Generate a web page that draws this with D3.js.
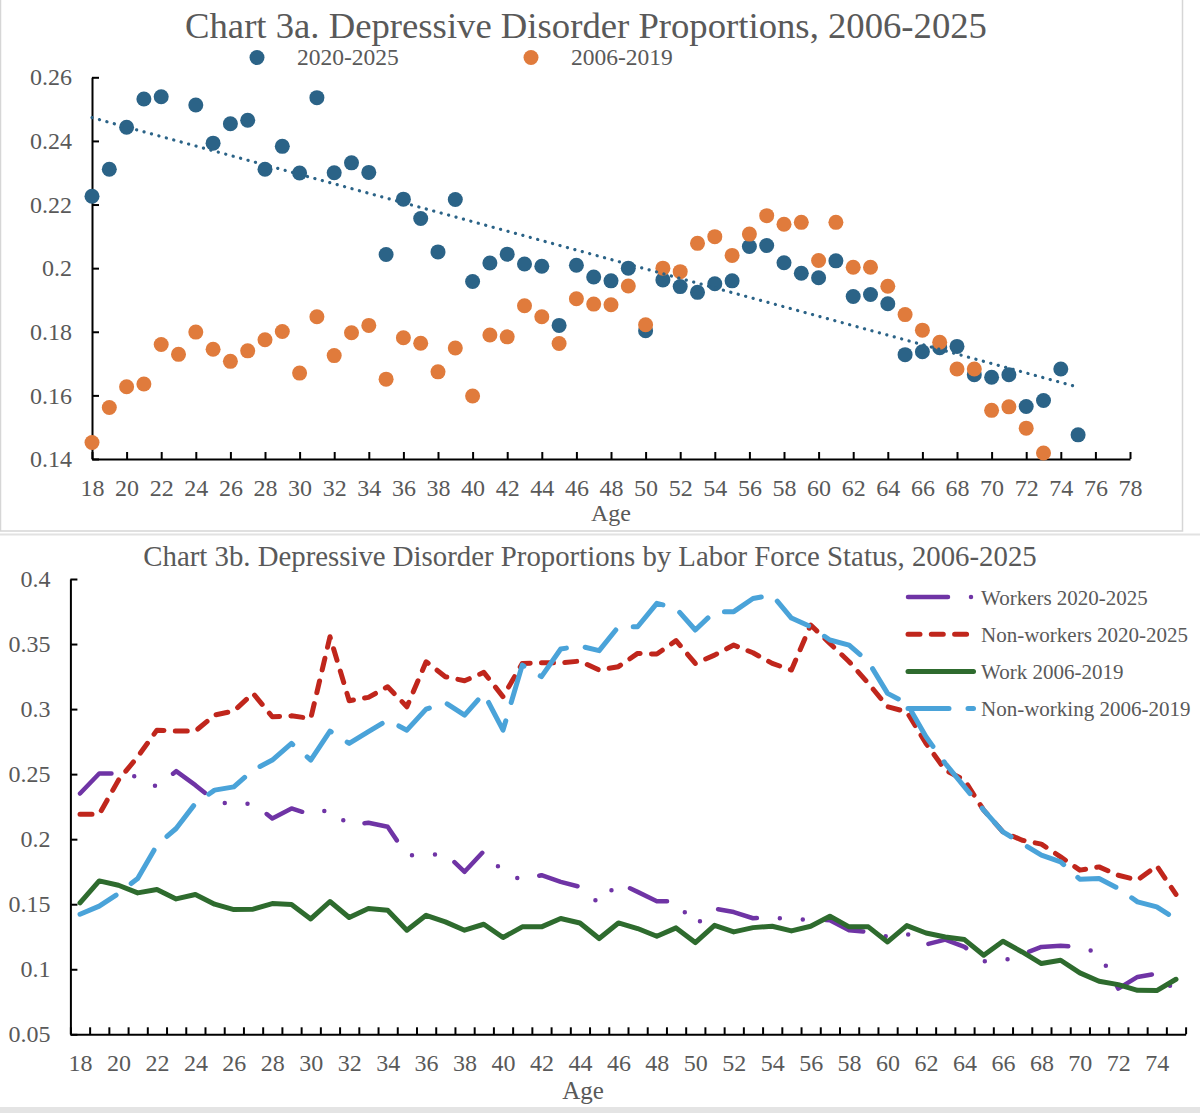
<!DOCTYPE html>
<html>
<head>
<meta charset="utf-8">
<script src="https://cdn.jsdelivr.net/npm/d3@7"></script>
<style>
  body { margin: 0; background: #fff; }
  svg text { font-family: "Liberation Serif", "Times New Roman", serif; fill: #595959; }
  .axis path, .axis line { stroke: #000; stroke-width: 2; }
  .axis text { font-size: 24px; fill: #595959; }
</style>
</head>
<body>
<svg id="chart" width="1200" height="1113"></svg>
<script>
// ---- chart 3a data (age 18..75) ----
var agesA = d3.range(18, 76);
var dep2020 = [0.2226, 0.2311, 0.2443, 0.2532, 0.2539, null, 0.2513, 0.2393, 0.2454, 0.2465,
  0.2311, 0.2383, 0.2299, 0.2536, 0.2300, 0.2331, 0.2301, 0.2043, 0.2217, 0.2156,
  0.2051, 0.2216, 0.1958, 0.2016, 0.2044, 0.2013, 0.2006, 0.1820, 0.2009, 0.1972,
  0.1960, 0.2000, 0.1803, 0.1963, 0.1942, 0.1924, 0.1951, 0.1960, 0.2068, 0.2071,
  0.2017, 0.1984, 0.1970, 0.2023, 0.1911, 0.1917, 0.1888, 0.1728, 0.1737, 0.1750,
  0.1754, 0.1665, 0.1657, 0.1665, 0.1565, 0.1584, 0.1683, 0.1476];
var dep2006 = [0.1452, 0.1562, 0.1627, 0.1636, 0.1760, 0.1729, 0.1799, 0.1745, 0.1707, 0.1740,
  0.1775, 0.1801, 0.1670, 0.1847, 0.1725, 0.1797, 0.1820, 0.1651, 0.1781, 0.1764,
  0.1674, 0.1749, 0.1598, 0.1790, 0.1784, 0.1882, 0.1847, 0.1763, 0.1904, 0.1887,
  0.1885, 0.1944, 0.1822, 0.2000, 0.1989, 0.2078, 0.2099, 0.2040, 0.2107, 0.2165,
  0.2138, 0.2144, 0.2024, 0.2144, 0.2003, 0.2003, 0.1943, 0.1854, 0.1805, 0.1767,
  0.1683, 0.1683, 0.1553, 0.1564, 0.1497, 0.1419, null, null];
var xTicksA = d3.range(18, 79, 2);
var yTicksA = [0.14, 0.16, 0.18, 0.2, 0.22, 0.24, 0.26];

// ---- chart 3b data (age 18..75) ----
var agesB = d3.range(18, 76);
var workers2020 = [0.2351, 0.2505, 0.2505, 0.2479, 0.2402, 0.2523, 0.2415, 0.2295, 0.2264, 0.2277,
  0.2159, 0.2236, 0.2190, 0.2228, 0.2108, 0.2126, 0.2095, 0.1877, 0.1877, 0.1890,
  0.1749, 0.1908, 0.1749, 0.1685, 0.1723, 0.1672, 0.1633, 0.1505, 0.1664, 0.1595,
  0.1523, 0.1523, 0.1338, 0.1467, 0.1440, 0.1392, 0.1398, 0.1385, 0.1382, 0.1377,
  0.1300, 0.1287, 0.1250, 0.1274, 0.1190, 0.1228, 0.1172, 0.1062, 0.1064, 0.1115,
  0.1172, 0.1180, 0.1172, 0.1121, 0.0851, 0.0941, 0.0967, 0.0831];
var nonWorkers2020 = [0.2192, 0.2192, 0.2454, 0.2633, 0.2838, 0.2831, 0.2831, 0.2954, 0.2985, 0.3121,
  0.2941, 0.2948, 0.2928, 0.3556, 0.3064, 0.3090, 0.3172, 0.3018, 0.3364, 0.3249,
  0.3218, 0.3282, 0.3095, 0.3351, 0.3356, 0.3356, 0.3369, 0.3300, 0.3326, 0.3428,
  0.3423, 0.3526, 0.3351, 0.3415, 0.3492, 0.3433, 0.3351, 0.3300, 0.3646, 0.3505,
  0.3364, 0.3198, 0.3018, 0.2979, 0.2736, 0.2531, 0.2454, 0.2223, 0.2056, 0.1992,
  0.1962, 0.1864, 0.1762, 0.1787, 0.1723, 0.1685, 0.1795, 0.1575];
var work2006 = [0.1510, 0.1679, 0.1646, 0.1587, 0.1613, 0.1541, 0.1575, 0.1500, 0.1459, 0.1462,
  0.1505, 0.1498, 0.1387, 0.1521, 0.1398, 0.1467, 0.1454, 0.1300, 0.1415, 0.1364,
  0.1300, 0.1346, 0.1244, 0.1326, 0.1326, 0.1390, 0.1356, 0.1236, 0.1356, 0.1313,
  0.1254, 0.1318, 0.1205, 0.1338, 0.1287, 0.1320, 0.1331, 0.1295, 0.1331, 0.1408,
  0.1326, 0.1326, 0.1210, 0.1336, 0.1279, 0.1248, 0.1228, 0.1108, 0.1215, 0.1133,
  0.1044, 0.1069, 0.0972, 0.0908, 0.0882, 0.0838, 0.0836, 0.0923];
var nonWorking2006 = [0.1423, 0.1485, 0.1582, 0.1698, 0.1954, 0.2082, 0.2275, 0.2377, 0.2402, 0.2531,
  0.2608, 0.2736, 0.2608, 0.2831, 0.2736, 0.2826, 0.2915, 0.2838, 0.3000, 0.3049,
  0.2954, 0.3121, 0.2838, 0.3338, 0.3249, 0.3462, 0.3485, 0.3449, 0.3633, 0.3633,
  0.3813, 0.3774, 0.3608, 0.3749, 0.3749, 0.3850, 0.3877, 0.3700, 0.3633, 0.3531,
  0.3492, 0.3364, 0.3121, 0.3044, 0.2787, 0.2582, 0.2402, 0.2223, 0.2056, 0.1967,
  0.1877, 0.1825, 0.1692, 0.1698, 0.1621, 0.1518, 0.1479, 0.1385];
var xLabelsB = d3.range(18, 75, 2);
var yTicksB = [0.05, 0.1, 0.15, 0.2, 0.25, 0.3, 0.35, 0.4];

var svg = d3.select("#chart");

// panel frames
svg.append("rect").attr("x", 0.5).attr("y", -2).attr("width", 1182).attr("height", 533)
  .attr("fill", "none").attr("stroke", "#d6d6d6").attr("stroke-width", 1.5);
svg.append("line").attr("x1", 0).attr("x2", 1200).attr("y1", 534.5).attr("y2", 534.5)
  .attr("stroke", "#e2e2e2").attr("stroke-width", 2);
svg.append("rect").attr("x", 0).attr("y", 1107).attr("width", 1200).attr("height", 6)
  .attr("fill", "#e4e4e4");

// ================= Chart 3a =================
var xA = d3.scaleLinear().domain([18, 78]).range([92, 1130]);
var yA = d3.scaleLinear().domain([0.14, 0.26]).range([459, 77.3]);

svg.append("text").attr("x", 586).attr("y", 38).attr("text-anchor", "middle")
  .style("font-size", "36.7px").text("Chart 3a. Depressive Disorder Proportions, 2006-2025");

var legA = [{ name: "2020-2025", color: "#2B6387", cx: 257, tx: 297 },
            { name: "2006-2019", color: "#E07B3C", cx: 531, tx: 571 }];
legA.forEach(d => {
  svg.append("circle").attr("cx", d.cx).attr("cy", 57.5).attr("r", 7.5).attr("fill", d.color);
  svg.append("text").attr("x", d.tx).attr("y", 65).style("font-size", "23.5px").text(d.name);
});

svg.append("g").attr("class", "axis").attr("transform", "translate(0,459)")
  .call(d3.axisBottom(xA).tickValues(xTicksA).tickSize(-7).tickSizeOuter(0).tickPadding(20)
    .tickFormat(d3.format("d")));
svg.append("g").attr("class", "axis").attr("transform", "translate(92,0)")
  .call(d3.axisLeft(yA).tickValues(yTicksA).tickSize(-7).tickSizeOuter(0).tickPadding(20)
    .tickFormat(d => d3.format("")(+d.toFixed(2))));
svg.append("text").attr("x", 611).attr("y", 521).attr("text-anchor", "middle")
  .style("font-size", "24px").text("Age");

var ptsNew = agesA.map((a, i) => [a, dep2020[i]]).filter(p => p[1] != null);
var ptsOld = agesA.map((a, i) => [a, dep2006[i]]).filter(p => p[1] != null);

// linear trend of the 2020-2025 series
var mx = d3.mean(ptsNew, p => p[0]), my = d3.mean(ptsNew, p => p[1]);
var slope = d3.sum(ptsNew, p => (p[0] - mx) * (p[1] - my)) / d3.sum(ptsNew, p => (p[0] - mx) ** 2);
var trendEnds = [18, 75].map(a => [a, my + slope * (a - mx)]);

svg.selectAll(".dotNew").data(ptsNew).enter().append("circle")
  .attr("cx", d => xA(d[0])).attr("cy", d => yA(d[1])).attr("r", 7.5).attr("fill", "#2B6387");
svg.selectAll(".dotOld").data(ptsOld).enter().append("circle")
  .attr("cx", d => xA(d[0])).attr("cy", d => yA(d[1])).attr("r", 7.5).attr("fill", "#E07B3C");

svg.append("path").datum(trendEnds)
  .attr("d", d3.line().x(d => xA(d[0])).y(d => yA(d[1])))
  .attr("fill", "none").attr("stroke", "#2B6387").attr("stroke-width", 3.2)
  .attr("stroke-linecap", "round").attr("stroke-dasharray", "0.1,7.6");

// ================= Chart 3b =================
var xB = d3.scaleLinear().domain([17.5, 75.5]).range([70.4, 1185.6]);
var yB = d3.scaleLinear().domain([0.05, 0.4]).range([1034.3, 579]);

svg.append("text").attr("x", 590).attr("y", 566).attr("text-anchor", "middle")
  .style("font-size", "28.8px").text("Chart 3b. Depressive Disorder Proportions by Labor Force Status, 2006-2025");

svg.append("g").attr("class", "axis").attr("transform", "translate(0,1034.3)")
  .call(d3.axisBottom(xB).tickValues(d3.range(17.5, 76, 1)).tickSize(-7).tickSizeOuter(0)
    .tickFormat(""));
svg.append("g").attr("class", "axis").attr("transform", "translate(0,1034.3)")
  .call(d3.axisBottom(xB).tickValues(xLabelsB).tickSize(0).tickPadding(20)
    .tickFormat(d3.format("d")))
  .select(".domain").remove();
svg.append("g").attr("class", "axis").attr("transform", "translate(70.4,0)")
  .call(d3.axisLeft(yB).tickValues(yTicksB).tickSize(-7).tickSizeOuter(0).tickPadding(20)
    .tickFormat(d => d3.format("")(+d.toFixed(2))));
svg.append("text").attr("x", 583).attr("y", 1099).attr("text-anchor", "middle")
  .style("font-size", "25px").text("Age");

var seriesB = [
  { name: "Workers 2020-2025", vals: workers2020, color: "#6F34A5", w: 4.5, dash: "40,23,0,23,0,23" },
  { name: "Non-workers 2020-2025", vals: nonWorkers2020, color: "#C0261C", w: 5, dash: "12,11.3" },
  { name: "Work 2006-2019", vals: work2006, color: "#2E6B2E", w: 5, dash: null },
  { name: "Non-working 2006-2019", vals: nonWorking2006, color: "#4AA3D9", w: 5, dash: "41,19" }
];
var lineB = d3.line().x(d => xB(d[0])).y(d => yB(d[1]));

seriesB.forEach((s, k) => {
  svg.append("path").datum(agesB.map((a, i) => [a, s.vals[i]]))
    .attr("d", lineB).attr("fill", "none").attr("stroke", s.color)
    .attr("stroke-width", s.w).attr("stroke-linecap", "round").attr("stroke-linejoin", "round")
    .attr("stroke-dasharray", s.dash);
  var ly = 597 + k * 37.2;
  svg.append("line").attr("x1", 908).attr("x2", 973.5).attr("y1", ly).attr("y2", ly)
    .attr("stroke", s.color).attr("stroke-width", s.w).attr("stroke-linecap", "round")
    .attr("stroke-dasharray", s.dash);
  svg.append("text").attr("x", 981).attr("y", ly + 7.5).style("font-size", "21px").text(s.name);
});
</script>
</body>
</html>
